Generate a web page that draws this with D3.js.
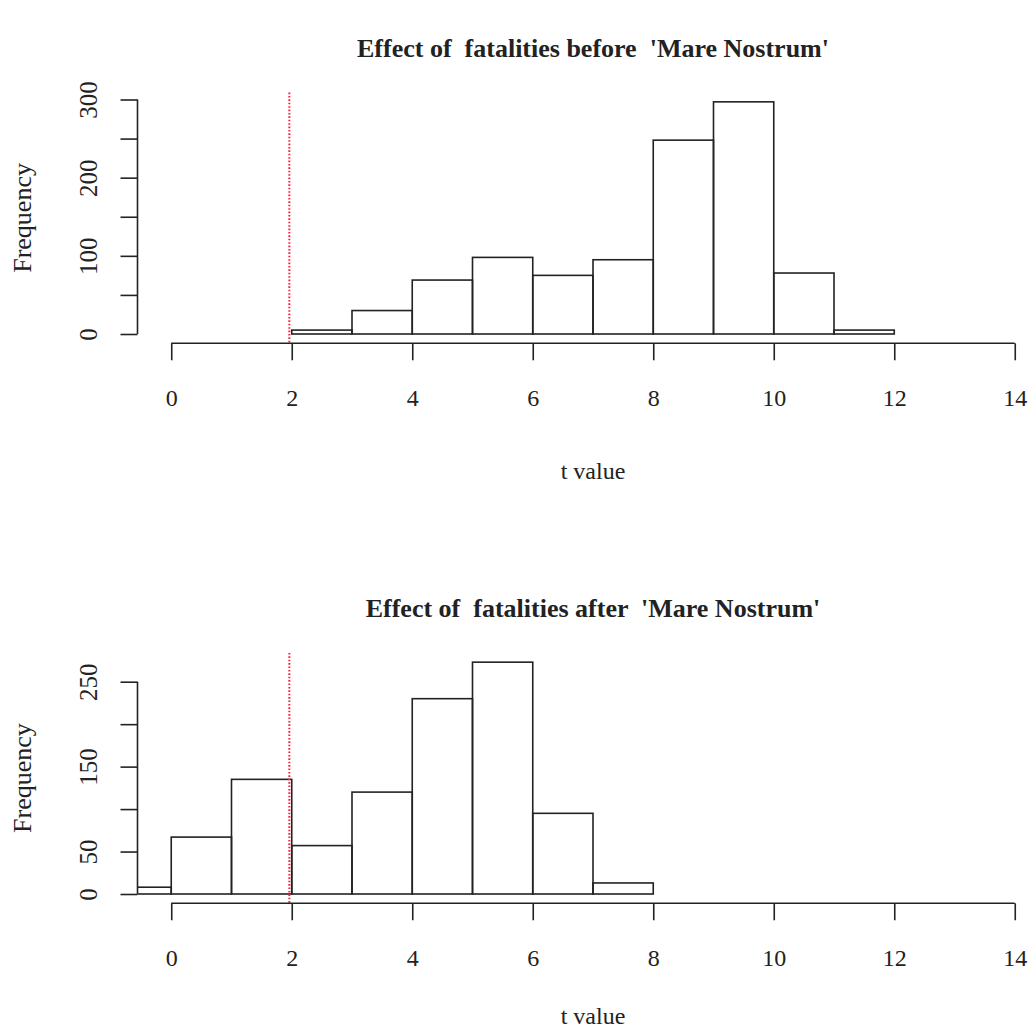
<!DOCTYPE html>
<html>
<head>
<meta charset="utf-8">
<script src="https://cdn.jsdelivr.net/npm/d3@7"></script>
<style>
  html, body { margin: 0; padding: 0; background: #fff; }
  svg { display: block; }
  text { font-family: "Liberation Serif", "Times New Roman", serif; fill: #222; white-space: pre; }
</style>
</head>
<body>
<svg id="chart" width="1032" height="1034"></svg>
<script>
// ---- data ----
const binEdgesBefore = [2, 3, 4, 5, 6, 7, 8, 9, 10, 11, 12];
const countsBefore   = [5, 30, 69, 98, 75, 95, 248, 297, 78, 5];
const binEdgesAfter  = [-1, 0, 1, 2, 3, 4, 5, 6, 7, 8];
const countsAfter    = [8, 67, 135, 57, 120, 230, 273, 95, 13];
const xTicks = [0, 2, 4, 6, 8, 10, 12, 14];
const yTicksBefore  = [0, 50, 100, 150, 200, 250, 300];
const yLabelsBefore = [0, 100, 200, 300];
const yTicksAfter   = [0, 50, 100, 150, 200, 250];
const yLabelsAfter  = [0, 50, 150, 250];
const criticalT = 1.96;
const titles = ["Effect of  fatalities before  'Mare Nostrum'", "Effect of  fatalities after  'Mare Nostrum'"];
const xLabel = "t value";
const yLabel = "Frequency";

const svg = d3.select("#chart");
const ink = "#222";
const lw = 1.6;

function panel(cfg) {
  const g = svg.append("g");
  const x = d3.scaleLinear().domain([-0.56, 14.56]).range([137.5, 1048.5]);
  const y = d3.scaleLinear().domain(cfg.yDomain).range(cfg.yRange);
  const maxC = d3.max(cfg.counts);
  const plotTop = y(maxC * 1.04), plotBottom = y(-maxC * 0.04);
  const plotLeft = x.range()[0], plotRight = x.range()[1];

  const clipId = "clip" + cfg.id;
  svg.append("clipPath").attr("id", clipId)
    .append("rect").attr("x", plotLeft).attr("y", plotTop)
    .attr("width", plotRight - plotLeft).attr("height", plotBottom - plotTop);

  const bins = cfg.counts.map((c, i) => ({ x0: cfg.edges[i], x1: cfg.edges[i + 1], c }));
  g.append("g").attr("clip-path", `url(#${clipId})`)
    .selectAll("rect").data(bins).join("rect")
    .attr("x", d => x(d.x0)).attr("width", d => x(d.x1) - x(d.x0))
    .attr("y", d => y(d.c)).attr("height", d => y(0) - y(d.c))
    .attr("fill", "none").attr("stroke", ink).attr("stroke-width", lw);

  // red dotted line
  g.append("line")
    .attr("x1", x(criticalT)).attr("x2", x(criticalT))
    .attr("y1", plotTop).attr("y2", plotBottom)
    .attr("stroke", "#ff1f3a").attr("stroke-width", 2)
    .attr("stroke-dasharray", "1.6,1.8");

  // x axis
  const xAxis = d3.axisBottom(x).tickValues(xTicks).tickSize(17).tickSizeOuter(0).tickFormat(d3.format("d"));
  const gx = g.append("g").attr("transform", `translate(0,${plotBottom})`).call(xAxis);
  gx.select(".domain").remove();
  gx.append("line").attr("x1", x(xTicks[0])).attr("x2", x(xTicks[xTicks.length - 1]))
    .attr("stroke", ink).attr("stroke-width", lw);
  gx.selectAll(".tick line").attr("stroke", ink).attr("stroke-width", lw);
  gx.selectAll(".tick text").attr("y", 54).attr("dy", "0.35em")
    .style("font-family", '"Liberation Serif", serif').style("font-size", "24px").attr("fill", ink);

  // y axis
  const yAxis = d3.axisLeft(y).tickValues(cfg.yTicks).tickSize(17).tickSizeOuter(0)
    .tickFormat(d => cfg.yLabels.includes(d) ? String(d) : "");
  const gy = g.append("g").attr("transform", `translate(${plotLeft},0)`).call(yAxis);
  gy.select(".domain").remove();
  gy.append("line").attr("y1", y(cfg.yTicks[0])).attr("y2", y(cfg.yTicks[cfg.yTicks.length - 1]))
    .attr("stroke", ink).attr("stroke-width", lw);
  gy.selectAll(".tick line").attr("stroke", ink).attr("stroke-width", lw);
  gy.selectAll(".tick text").attr("x", null).attr("dy", null)
    .attr("transform", "translate(-49,0) rotate(-90)")
    .attr("text-anchor", "middle").attr("dy", "0.35em")
    .style("font-family", '"Liberation Serif", serif').style("font-size", "25px").attr("fill", ink);

  // titles and labels
  const cx = (plotLeft + plotRight) / 2;
  g.append("text").attr("x", cx).attr("y", cfg.titleY).attr("text-anchor", "middle")
    .attr("xml:space", "preserve")
    .attr("dy", "0.35em").style("font-weight", "bold").style("font-size", "26px").text(cfg.title);
  g.append("text").attr("x", cx).attr("y", plotBottom + cfg.xLabelOffset).attr("text-anchor", "middle")
    .attr("dy", "0.35em").style("font-size", "24px").text(xLabel);
  g.append("text").attr("transform", `translate(22,${(plotTop + plotBottom) / 2}) rotate(-90)`)
    .attr("text-anchor", "middle").attr("dy", "0.35em").style("font-size", "26px").text(yLabel);
}

panel({ id: 1, edges: binEdgesBefore, counts: countsBefore, yDomain: [0, 300], yRange: [334, 99.5],
        yTicks: yTicksBefore, yLabels: yLabelsBefore, title: titles[0], titleY: 48, xLabelOffset: 127 });
panel({ id: 2, edges: binEdgesAfter, counts: countsAfter, yDomain: [0, 250], yRange: [894, 681.7],
        yTicks: yTicksAfter, yLabels: yLabelsAfter, title: titles[1], titleY: 608, xLabelOffset: 112 });
</script>
</body>
</html>
